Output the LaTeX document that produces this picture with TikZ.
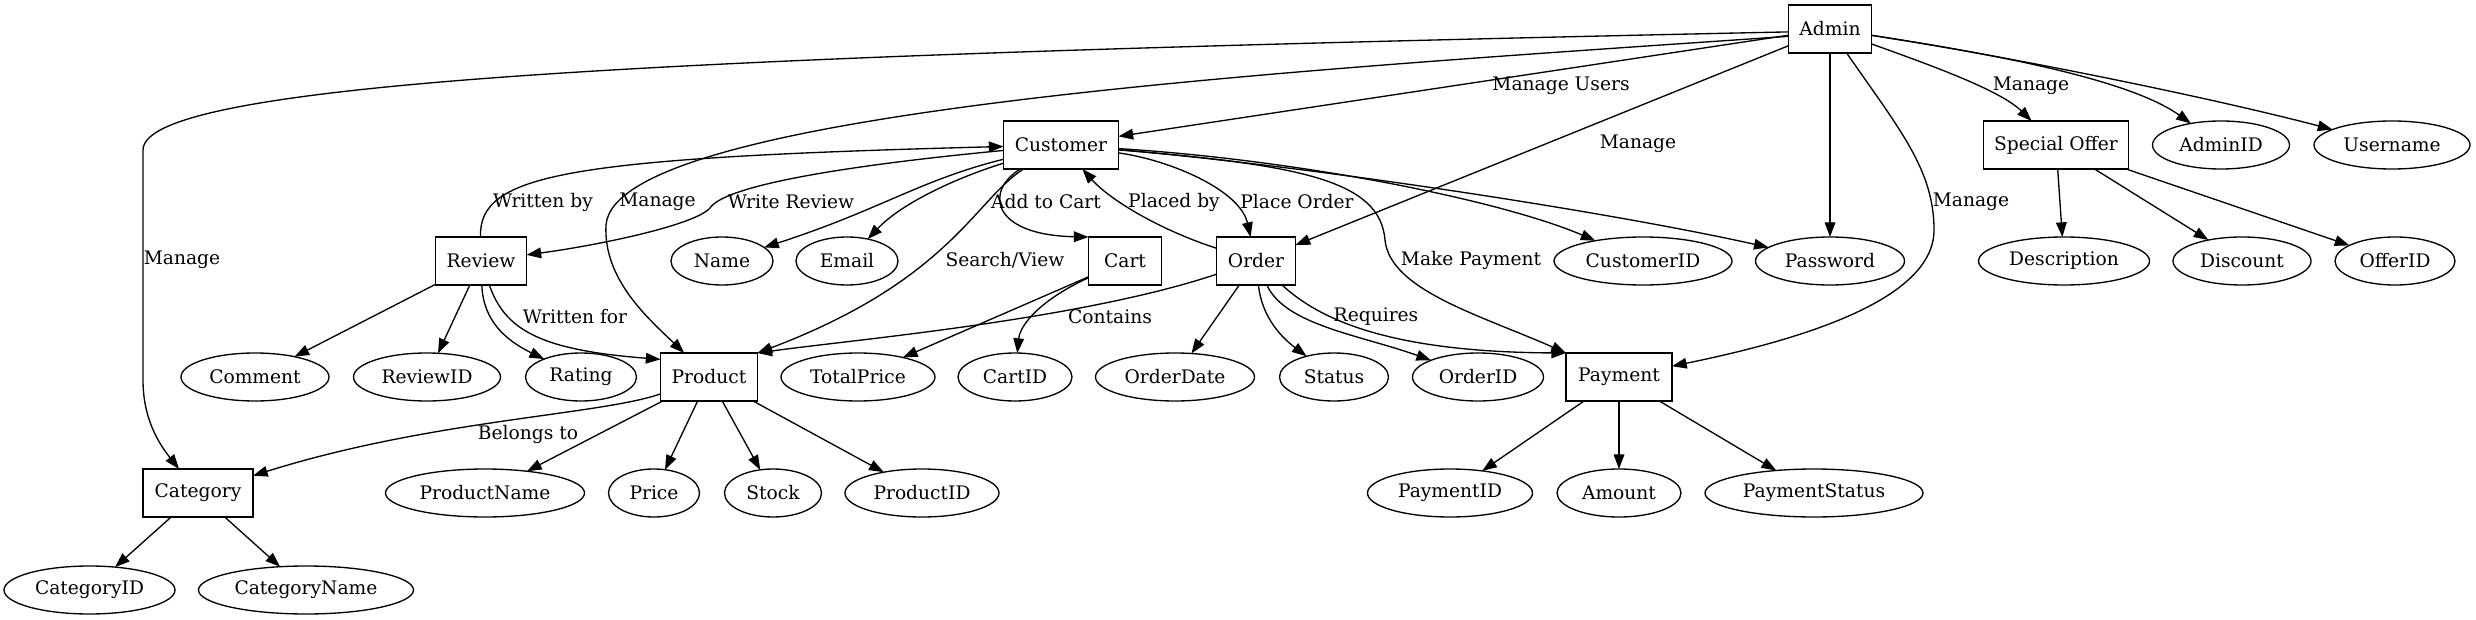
\documentclass[tikz,border=0pt]{standalone}
\usepackage{fontspec}
\setmainfont{DejaVu Serif}
\usetikzlibrary{arrows.meta,shapes.geometric}
\begin{document}
\begin{tikzpicture}[x=0.75pt,y=-0.75pt,
  every node/.style={font=\fontsize{14pt}{16pt}\selectfont, inner sep=0pt, outer sep=0pt},
  ent/.style={draw, rectangle, minimum height=36pt, line width=1pt},
  att/.style={draw, ellipse, minimum height=36pt, line width=1pt},
  con/.style={line width=1pt, -{Triangle[length=11pt,width=8pt]}},
  lbl/.style={}]
\useasboundingbox (0,0) rectangle (2476,620);
% entities
\node[ent, minimum width=62.25pt] (admin) at (1830,29) {Admin};
\node[ent, minimum width=86.25pt] (customer) at (1061,145) {Customer};
\node[ent, minimum width=108.75pt] (specialoffer) at (2056,145) {Special Offer};
\node[ent, minimum width=68.25pt] (review) at (481,261) {Review};
\node[ent, minimum width=54.75pt] (cart) at (1125,261) {Cart};
\node[ent, minimum width=59.25pt] (order) at (1256,261) {Order};
\node[ent, minimum width=72.75pt] (product) at (709,377) {Product};
\node[ent, minimum width=79.5pt] (payment) at (1619,377) {Payment};
\node[ent, minimum width=82.5pt] (category) at (198,493) {Category};
% attributes
\node[att, minimum width=102.75pt] (adminid) at (2221,145) {AdminID};
\node[att, minimum width=117pt] (username) at (2392,145) {Username};
\node[att, minimum width=76.5pt] (name) at (722,261) {Name};
\node[att, minimum width=76.5pt] (email) at (847,261) {Email};
\node[att, minimum width=133.5pt] (customerid) at (1643,261) {CustomerID};
\node[att, minimum width=111.75pt] (password) at (1830,261) {Password};
\node[att, minimum width=128.25pt] (description) at (2064,261) {Description};
\node[att, minimum width=103.5pt] (discount) at (2242,261) {Discount};
\node[att, minimum width=90pt] (offerid) at (2395,261) {OfferID};
\node[att, minimum width=111pt] (comment) at (255,377) {Comment};
\node[att, minimum width=110.25pt] (reviewid) at (427,377) {ReviewID};
\node[att, minimum width=83.25pt] (rating) at (581,377) {Rating};
\node[att, minimum width=115.5pt] (totalprice) at (858,377) {TotalPrice};
\node[att, minimum width=85.5pt] (cartid) at (1015,377) {CartID};
\node[att, minimum width=119.25pt] (orderdate) at (1175,377) {OrderDate};
\node[att, minimum width=81.75pt] (status) at (1334,377) {Status};
\node[att, minimum width=98.25pt] (orderid) at (1478,377) {OrderID};
\node[att, minimum width=149.25pt] (productname) at (485,493) {ProductName};
\node[att, minimum width=68.25pt] (price) at (654,493) {Price};
\node[att, minimum width=72.75pt] (stock) at (773,493) {Stock};
\node[att, minimum width=115.5pt] (productid) at (922,493) {ProductID};
\node[att, minimum width=123.75pt] (paymentid) at (1450,493) {PaymentID};
\node[att, minimum width=93pt] (amount) at (1619,493) {Amount};
\node[att, minimum width=163.5pt] (paymentstatus) at (1814,493) {PaymentStatus};
\node[att, minimum width=128.25pt] (categoryid) at (89.5,590) {CategoryID};
\node[att, minimum width=161.25pt] (categoryname) at (306,590) {CategoryName};
% Admin edges
\draw[con] (admin.184) .. controls (700,55) and (143,80) .. (143,150) -- (143,380) .. controls (143,420) and (160,445) .. (category);
\draw[con] (admin.190) .. controls (1300,70) and (615,110) .. (606,225) .. controls (603,280) and (650,320) .. (product);
\draw[con] (admin) -- (customer);
\draw[con] (admin) -- (order);
\draw[con] (admin) -- (password);
\draw[con] (admin) .. controls (1900,130) and (1934,170) .. (1934,230) .. controls (1934,300) and (1800,340) .. (payment);
\draw[con] (admin) .. controls (1930,65) and (2000,90) .. (specialoffer);
\draw[con] (admin) .. controls (2000,55) and (2130,80) .. (adminid);
\draw[con] (admin) .. controls (2000,55) and (2200,95) .. (username);
% Customer edges
\draw[con] (customer) .. controls (850,165) and (725,185) .. (710,208) .. controls (695,225) and (600,245) .. (review);
\draw[con] (review) .. controls (479,175) and (560,158) .. (customer);
\draw[con] (customer) .. controls (920,180) and (880,210) .. (name);
\draw[con] (customer) .. controls (950,180) and (900,205) .. (email);
\draw[con] (customer) .. controls (975,200) and (950,280) .. (product.north east);
\draw[con] (customer) .. controls (985,190) and (990,235) .. (cart.north west);
\draw[con] (order) .. controls (1160,230) and (1110,200) .. (customer);
\draw[con] (customer) .. controls (1170,160) and (1240,190) .. (order);
\draw[con] (customer) .. controls (1300,165) and (1380,180) .. (1385,240) .. controls (1390,290) and (1480,315) .. (payment.north west);
\draw[con] (customer) .. controls (1300,160) and (1500,200) .. (customerid);
\draw[con] (customer) .. controls (1300,165) and (1600,210) .. (password);
% Review edges
\draw[con] (review) -- (comment);
\draw[con] (review) -- (reviewid);
\draw[con] (review) .. controls (483,320) and (505,340) .. (rating);
\draw[con] (review) .. controls (505,330) and (540,350) .. (product.160);
% Product edges
\draw[con] (product) .. controls (600,415) and (430,420) .. (category);
\draw[con] (product) -- (productname);
\draw[con] (product) -- (price);
\draw[con] (product) -- (stock);
\draw[con] (product) -- (productid);
% Cart edges
\draw[con] (cart) -- (totalprice);
\draw[con] (cart) .. controls (1040,300) and (1020,325) .. (cartid);
% Order edges
\draw[con] (order) .. controls (1080,320) and (850,340) .. (product.north east);
\draw[con] (order) -- (orderdate);
\draw[con] (order) .. controls (1262,320) and (1285,340) .. (status);
\draw[con] (order) .. controls (1285,325) and (1360,335) .. (orderid);
\draw[con] (order) .. controls (1320,320) and (1390,352) .. (payment.north west);
% Special offer edges
\draw[con] (specialoffer) -- (description);
\draw[con] (specialoffer) -- (discount);
\draw[con] (specialoffer) -- (offerid);
% Payment edges
\draw[con] (payment) -- (paymentid);
\draw[con] (payment) -- (amount);
\draw[con] (payment) -- (paymentstatus);
% Category edges
\draw[con] (category) -- (categoryid);
\draw[con] (category) -- (categoryname);
% labels
\node[lbl] (l1) at (182,260) {Manage};
\node[lbl] (l2) at (657.5,202) {Manage};
\node[lbl] (l3) at (1561,86) {Manage Users};
\node[lbl] (l4) at (1638,144) {Manage};
\node[lbl] (l5) at (1971,202) {Manage};
\node[lbl] (l6) at (2031,86) {Manage};
\node[lbl] (l7) at (791,202) {Write Review};
\node[lbl] (l8) at (543,202) {Written by};
\node[lbl] (l9) at (1005,260) {Search/View};
\node[lbl] (l10) at (1046,202) {Add to Cart};
\node[lbl] (l11) at (1174,202) {Placed by};
\node[lbl] (l12) at (1297,202) {Place Order};
\node[lbl] (l13) at (1471,260) {Make Payment};
\node[lbl] (l14) at (575,317) {Written for};
\node[lbl] (l15) at (528,434) {Belongs to};
\node[lbl] (l16) at (1110,317) {Contains};
\node[lbl] (l17) at (1376,317) {Requires};
\end{tikzpicture}
\end{document}
